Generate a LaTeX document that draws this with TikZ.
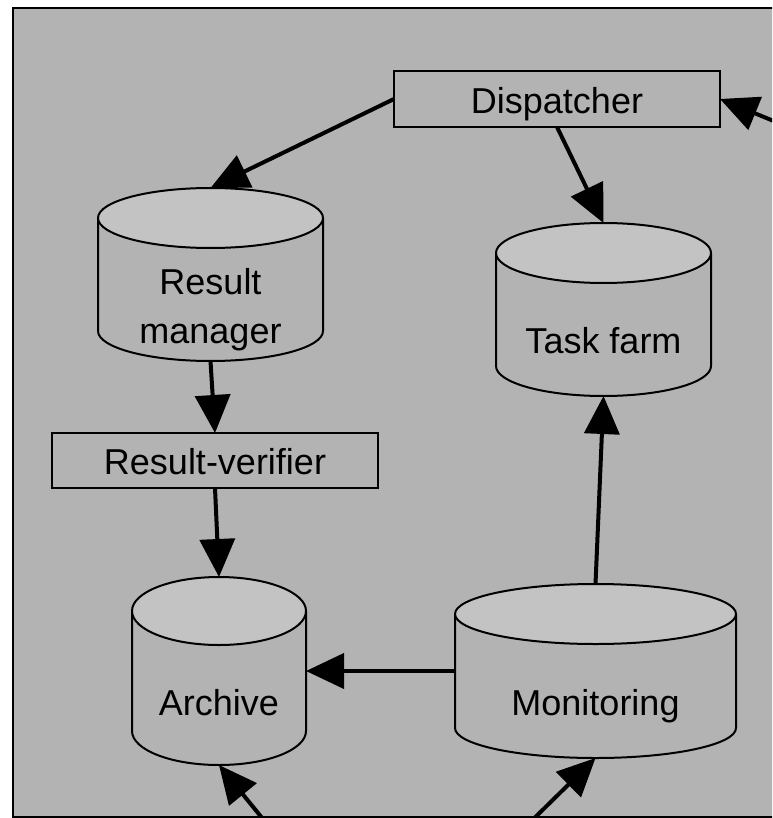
\documentclass[tikz,border=0pt]{standalone}
\usepackage{fontspec}
\setmainfont{Liberation Sans}
\usetikzlibrary{arrows.meta}
\definecolor{sheet}{RGB}{179,179,179}
\definecolor{lid}{RGB}{195,195,195}
\newcommand\lblfont{\fontsize{36}{48.5}\selectfont}
\tikzset{
  drumline/.style={draw=black, line width=2pt, line join=round},
  drum/.style={rectangle, inner sep=0pt, outer sep=0pt},
  drumtext/.style={font=\lblfont, yshift=-35pt},
  oneline/.style={text depth=7.6pt},
  stagebox/.style={draw=black, line width=2pt, fill=sheet, inner sep=0pt,
    outer sep=0pt, minimum width=326pt, font=\lblfont, text height=28.6pt, text depth=0pt},
  flow/.style={draw=black, line width=4pt, -{Triangle[length=38pt,width=35pt]}},
}
% storage drum: #1 name, #2 centre x, #3 centre y, #4 half width,
% #5 half height, #6 lid radius, #7 extra node options (label)
\newcommand\dbdrum[7]{%
  \path[drumline, fill=sheet] (#2-#4,#3+#5-#6) -- (#2-#4,#3-#5+#6)
    arc[start angle=180, end angle=360, x radius=#4, y radius=#6]
    -- (#2+#4,#3+#5-#6);
  \path[drumline, fill=lid] (#2,#3+#5-#6) ellipse[x radius=#4, y radius=#6];
  \node[drum, minimum width=2*#4, minimum height=2*#5, #7] (#1) at (#2,#3) {};
}
\begin{document}
\begin{tikzpicture}[x=1pt, y=1pt]
  \useasboundingbox (0,0) rectangle (772,-818);
  \clip (0,0) rectangle (772,-818);

  % sheet
  \path[fill=sheet, draw=black, line width=2.5pt] (13,-8) rectangle (800,-817);

  % storage
  \dbdrum{manager}{210.5}{-274.5}{112.5}{86.5}{30}{label={[drumtext, align=center]center:Result\\manager}}
  \dbdrum{farm}{603.5}{-309.5}{107.5}{86.5}{30}{label={[drumtext, oneline]center:Task farm}}
  \dbdrum{archive}{219}{-671}{87}{94}{34}{label={[drumtext, oneline]center:Archive}}
  \dbdrum{monitor}{595.5}{-671}{140.5}{87}{30}{label={[drumtext, oneline]center:Monitoring}}

  % processing stages
  \node[stagebox, minimum height=56pt] (dispatch) at (557,-99) {Dispatcher};
  \node[stagebox, minimum height=55pt] (verify) at (215,-460.5) {Result-verifier};

  % incoming flows from outside the sheet
  \coordinate (inR) at (800,-131.8);
  \coordinate (inA) at (280,-840);
  \coordinate (inM) at (512,-840);

  % flows
  \draw[flow] (dispatch.west) -- (manager.north);
  \draw[flow] (dispatch.south) -- (farm.north);
  \draw[flow] (manager.south) -- (verify.north);
  \draw[flow] (verify.south) -- (archive.north);
  \draw[flow] (monitor.west) -- (archive.east);
  \draw[flow] (monitor.north) -- (farm.south);
  \draw[flow] (inR) -- (dispatch.east);
  \draw[flow] (inA) -- (archive.south);
  \draw[flow] (inM) -- (monitor.south);
\end{tikzpicture}
\end{document}
